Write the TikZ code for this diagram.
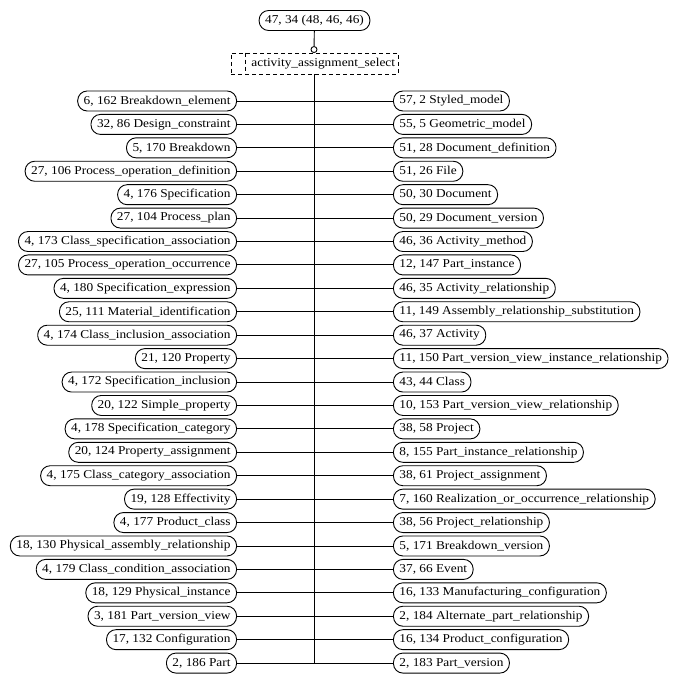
\documentclass[tikz,border=0pt]{standalone}
\usepackage{fontspec}
\setmainfont[FakeStretch=1.11]{Liberation Serif}
\tikzset{
  ent/.style={draw, rounded corners=9.5pt, minimum height=20pt, inner xsep=6pt, inner ysep=0pt, font=\fontsize{12}{14}\selectfont},
  selbox/.style={draw, dash pattern=on 4pt off 3pt, minimum height=21pt, inner xsep=3pt, inner ysep=0pt, font=\fontsize{12}{14}\selectfont},
  conn/.style={line width=0.9pt}
}
\begin{document}
\begin{tikzpicture}[x=1pt,y=-1pt,line width=0.9pt]
\useasboundingbox (0,0) rectangle (680,684);
\node[ent] (top) at (314.5,20.5) {47, 34 (48, 46, 46)};
\node[selbox] (sel) at (314.5,63.5) {\makebox[161pt][r]{activity\_assignment\_select}};
\draw[dash pattern=on 4pt off 3pt] ([xshift=15pt]sel.north west) -- ([xshift=15pt]sel.south west);
\node[circle, draw, fill=white, inner sep=0pt, minimum size=6pt, anchor=south] (circ) at (314,53) {};
\draw[conn] (top) -- (circ);
\foreach \t [count=\i] in {
{6, 162 Breakdown\_element},
{32, 86 Design\_constraint},
{5, 170 Breakdown},
{27, 106 Process\_operation\_definition},
{4, 176 Specification},
{27, 104 Process\_plan},
{4, 173 Class\_specification\_association},
{27, 105 Process\_operation\_occurrence},
{4, 180 Specification\_expression},
{25, 111 Material\_identification},
{4, 174 Class\_inclusion\_association},
{21, 120 Property},
{4, 172 Specification\_inclusion},
{20, 122 Simple\_property},
{4, 178 Specification\_category},
{20, 124 Property\_assignment},
{4, 175 Class\_category\_association},
{19, 128 Effectivity},
{4, 177 Product\_class},
{18, 130 Physical\_assembly\_relationship},
{4, 179 Class\_condition\_association},
{18, 129 Physical\_instance},
{3, 181 Part\_version\_view},
{17, 132 Configuration},
{2, 186 Part}}{
  \pgfmathsetmacro{\yy}{101+(\i-1)*23.42}
  \node[ent, anchor=east] (L\i) at (237,\yy) {\t};
  \coordinate (sp\i) at (314,\yy);
  \draw[conn] (L\i) -- (sp\i);
}
\foreach \t [count=\i] in {
{57, 2 Styled\_model},
{55, 5 Geometric\_model},
{51, 28 Document\_definition},
{51, 26 File},
{50, 30 Document},
{50, 29 Document\_version},
{46, 36 Activity\_method},
{12, 147 Part\_instance},
{46, 35 Activity\_relationship},
{11, 149 Assembly\_relationship\_substitution},
{46, 37 Activity},
{11, 150 Part\_version\_view\_instance\_relationship},
{43, 44 Class},
{10, 153 Part\_version\_view\_relationship},
{38, 58 Project},
{8, 155 Part\_instance\_relationship},
{38, 61 Project\_assignment},
{7, 160 Realization\_or\_occurrence\_relationship},
{38, 56 Project\_relationship},
{5, 171 Breakdown\_version},
{37, 66 Event},
{16, 133 Manufacturing\_configuration},
{2, 184 Alternate\_part\_relationship},
{16, 134 Product\_configuration},
{2, 183 Part\_version}}{
  \node[ent, anchor=west] (R\i) at (393,{101+(\i-1)*23.42}) {\t};
  \draw[conn] (sp\i) -- (R\i);
}
\draw[conn] (sel.south -| sp1) -- (sp25);
\end{tikzpicture}
\end{document}
